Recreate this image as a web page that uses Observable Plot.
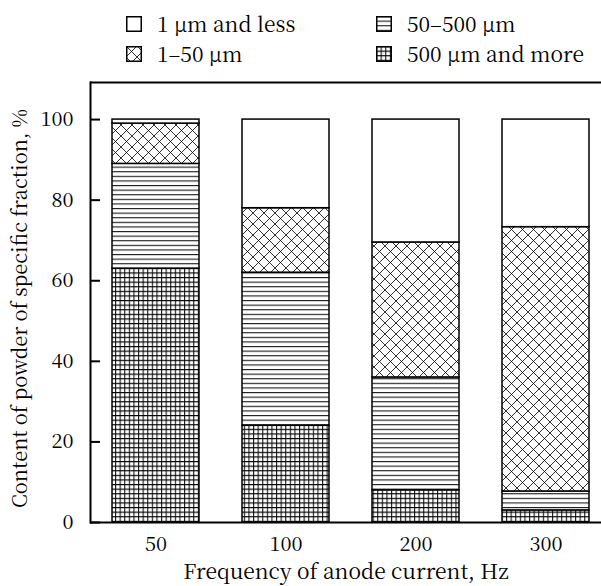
<!DOCTYPE html>
<html><head><meta charset="utf-8">
<script src="https://cdn.jsdelivr.net/npm/d3@7"></script>
<script src="https://cdn.jsdelivr.net/npm/@observablehq/plot@0.6"></script>
<style>
body{margin:0;background:#fff;}
.ff{font-family:'Noto Serif CJK SC','Liberation Serif',serif;}
#wrap{width:601px;color:#000;}
#legend{position:relative;height:70px;font-size:21px;}
.sw{position:absolute;width:16px;height:16px;}
.lab{position:absolute;line-height:24px;white-space:nowrap;}
</style></head><body>
<svg width="0" height="0" style="position:absolute"><defs id="ldefs"></defs></svg>
<div id="wrap" class="ff"><div id="legend" class="ff"></div><div id="chart"></div></div>
<script>
const frequencies = ["50", "100", "200", "300"];
const fractions = ["500 µm and more", "50–500 µm", "1–50 µm", "1 µm and less"];
const share500plus = [63, 24, 8, 3];
const share50to500 = [26, 38, 28, 4.7];
const share1to50 = [10, 16, 33.5, 65.6];
const share1less = [1, 22, 30.5, 26.7];
const yTicks = [0, 20, 40, 60, 80, 100];
const yMax = 109.2;
const xLabel = "Frequency of anode current, Hz";
const yLabel = "Content of powder of specific fraction, %";
const fontStack = "'Noto Serif CJK SC', 'Liberation Serif', serif";

function patternDefs(p) {
  return `
  <pattern id="${p}-none" patternUnits="userSpaceOnUse" width="10" height="10"><rect width="10" height="10" fill="#fff"/></pattern>
  <pattern id="${p}-cross" patternUnits="userSpaceOnUse" width="11" height="11">
    <rect width="11" height="11" fill="#fff"/>
    <path d="M0,0L11,11M11,0L0,11" stroke="#000" stroke-width="0.8"/></pattern>
  <pattern id="${p}-hor" patternUnits="userSpaceOnUse" width="10" height="4.6">
    <rect width="10" height="4.6" fill="#fff"/>
    <path d="M0,0.6H10" stroke="#000" stroke-width="1"/></pattern>
  <pattern id="${p}-grid" patternUnits="userSpaceOnUse" width="4.6" height="4.6">
    <rect width="4.6" height="4.6" fill="#fff"/>
    <path d="M0,0.6H4.6M0.6,0V4.6" stroke="#000" stroke-width="1"/></pattern>`;
}
const patKeys = ["grid", "hor", "cross", "none"];

// legend
document.getElementById("ldefs").innerHTML = patternDefs("l");
const legendItems = [
  {k: 3, left: 126, top: 16}, {k: 1, left: 376, top: 16},
  {k: 2, left: 126, top: 46}, {k: 0, left: 376, top: 46}
];
const legend = document.getElementById("legend");
legendItems.forEach(it => {
  const s = document.createElementNS("http://www.w3.org/2000/svg", "svg");
  s.setAttribute("class", "sw");
  s.setAttribute("width", 16); s.setAttribute("height", 16);
  s.style.left = it.left + "px"; s.style.top = it.top + "px";
  s.innerHTML = `<rect x="0.75" y="0.75" width="14.5" height="14.5" fill="url(#l-${patKeys[it.k]})" stroke="#000" stroke-width="1.5"/>`;
  legend.appendChild(s);
  const t = document.createElement("div");
  t.className = "lab ff";
  t.style.left = (it.left + 31) + "px";
  t.style.top = (it.top - 5) + "px";
  t.textContent = fractions[it.k];
  legend.appendChild(t);
});

const rows = [];
const series = [share500plus, share50to500, share1to50, share1less];
frequencies.forEach((f, i) => {
  series.forEach((arr, j) => rows.push({freq: f, fraction: fractions[j], value: arr[i]}));
});

const plot = Plot.plot({
  width: 601, height: 516,
  marginLeft: 90, marginRight: 0, marginTop: 12, marginBottom: 64,
  style: {fontFamily: fontStack, fontSize: "21px", color: "#000", background: "#fff", overflow: "visible"},
  x: {domain: frequencies, range: [89.6, 612.4], paddingInner: 0.327, paddingOuter: 0.1635, label: null},
  y: {domain: [0, yMax], label: null},
  color: {domain: fractions, range: patKeys.map(k => `url(#c-${k})`)},
  marks: [
    Plot.barY(rows, {x: "freq", y: "value", fill: "fraction", stroke: "#000", strokeWidth: 1.5}),
    Plot.ruleY([0], {stroke: "#000", strokeWidth: 2}),
    Plot.ruleY([yMax], {stroke: "#000", strokeWidth: 2}),
    Plot.frame({anchor: "left", stroke: "#000", strokeWidth: 2}),
    Plot.axisY(yTicks, {tickSize: -10, tickPadding: 27, strokeWidth: 2, fontSize: 20}),
    Plot.axisX({tickSize: 0, tickPadding: 14, fontSize: 20}),
    Plot.text([yLabel], {frameAnchor: "left", rotate: -90, dx: -70, dy: 6, fontSize: 20, textAnchor: "middle", lineAnchor: "middle"}),
    Plot.text([xLabel], {frameAnchor: "bottom", dy: 50, fontSize: 21, textAnchor: "middle", lineAnchor: "middle"})
  ]
});
d3.select(plot).insert("defs", ":first-child").html(patternDefs("c"));
document.getElementById("chart").appendChild(plot);
</script></body></html>
